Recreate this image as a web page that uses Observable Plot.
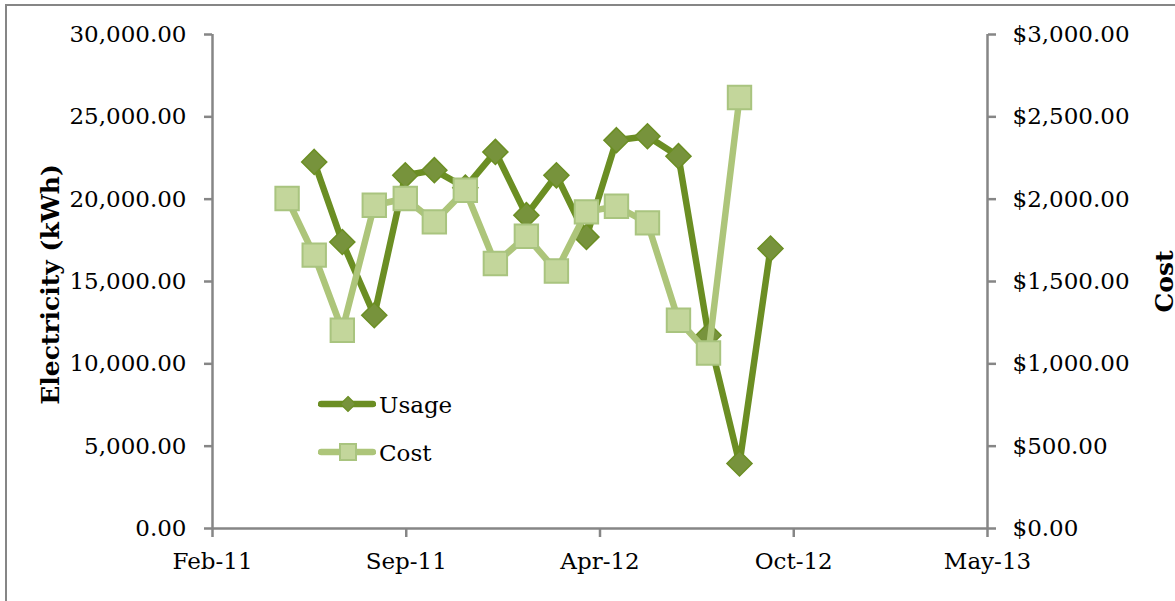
<!DOCTYPE html>
<html>
<head>
<meta charset="utf-8">
<script src="https://cdn.jsdelivr.net/npm/d3@7"></script>
<script src="https://cdn.jsdelivr.net/npm/@observablehq/plot@0.6"></script>
<style>
  html, body { margin: 0; padding: 0; background: #fff; overflow: hidden; }
  #wrap { position: relative; width: 1175px; height: 601px; overflow: hidden; }
  #frame { position: absolute; left: 5px; top: 4px; width: 1300px; height: 700px; border: 2px solid #868686; box-sizing: border-box; }
  #chart { position: absolute; left: 0; top: 0; }
  #legend { position: absolute; left: 318px; top: 389px; font-family: "DejaVu Serif", serif; font-size: 23px; color: #000; }
  .row { display: flex; align-items: center; height: 30px; margin-bottom: 18px; }
  .row span { margin-left: 3px; position: relative; top: 1px; }
</style>
</head>
<body>
<div id="wrap">
  <div id="frame"></div>
  <div id="chart"></div>
  <div id="legend"></div>
</div>
<script>
// ---- data ----
const billDates = ["2011-05-14","2011-06-11","2011-07-10","2011-08-12","2011-09-13","2011-10-13",
  "2011-11-14","2011-12-15","2012-01-16","2012-02-16","2012-03-18","2012-04-18","2012-05-20",
  "2012-06-21","2012-07-22","2012-08-23","2012-09-24"];
const usageDates = billDates.slice(1);
const usageKWh = [22260, 17400, 12950, 21450, 21760, 20700, 22870, 19030, 21450, 17710,
  23580, 23820, 22610, 11740, 3950, 17000];
const costDates = billDates.slice(0, 16);
const costUSD = [2004, 1660, 1204, 1963, 2004, 1862, 2054, 1609, 1775, 1564,
  1923, 1957, 1856, 1265, 1066, 2617];

const xTickDates = ["2011-02-26","2011-09-14","2012-04-01","2012-10-18","2013-05-06"];
const xTickLabels = ["Feb-11","Sep-11","Apr-12","Oct-12","May-13"];
const yTicks = [0, 5000, 10000, 15000, 20000, 25000, 30000];
const costTicks = [0, 500, 1000, 1500, 2000, 2500, 3000];
const seriesNames = ["Usage", "Cost"];
const titleLeft = "Electricity (kWh)";
const titleRight = "Cost";

// ---- build ----
const parse = d3.utcParse("%Y-%m-%d");
const ratio = 30000 / 3000; // cost axis maps onto usage axis
const usageData = usageDates.map((d, i) => ({date: parse(d), value: usageKWh[i]}));
const costData = costDates.map((d, i) => ({date: parse(d), value: costUSD[i] * ratio}));
const tickDates = xTickDates.map(parse);
const tickLabelMap = new Map(tickDates.map((d, i) => [+d, xTickLabels[i]]));

const gray = "#868686";
const usageLine = "#6B8E23", usageFill = "#77933C";
const costLine = "#ADC57A", costFill = "#C3D69B", costStroke = "#A9C47F";

const chart = Plot.plot({
  width: 1175,
  height: 601,
  marginLeft: 212,
  marginRight: 188,
  marginTop: 34,
  marginBottom: 73,
  style: {fontFamily: "DejaVu Serif", fontSize: "23px", color: "#000", background: "transparent", overflow: "visible"},
  x: {type: "utc", domain: [tickDates[0], tickDates[tickDates.length - 1]]},
  y: {domain: [0, 30000]},
  marks: [
    Plot.ruleY([0], {stroke: gray, strokeWidth: 2.5}),
    Plot.ruleX([tickDates[0]], {stroke: gray, strokeWidth: 2.5}),
    Plot.ruleX([tickDates[tickDates.length - 1]], {stroke: gray, strokeWidth: 2.5}),
    Plot.axisY({ticks: yTicks, tickFormat: d3.format(",.2f"), tickSize: 8, tickPadding: 18,
      stroke: gray, strokeWidth: 2.5, fill: "#000", label: null, fontSize: 23}),
    Plot.axisY({anchor: "right", ticks: costTicks.map(c => c * ratio),
      tickFormat: d => "$" + d3.format(",.2f")(d / ratio), tickSize: 8, tickPadding: 17,
      stroke: gray, strokeWidth: 2.5, fill: "#000", label: null, fontSize: 23}),
    Plot.axisX({ticks: tickDates, tickFormat: d => tickLabelMap.get(+d), tickSize: 9, tickPadding: 15,
      stroke: gray, strokeWidth: 2.5, fill: "#000", label: null, fontSize: 23}),
    Plot.text([titleLeft], {frameAnchor: "left", textAnchor: "middle", text: d => d, rotate: -90, dx: -162, dy: 3,
      fontWeight: "bold", fontSize: 25, fill: "#000"}),
    Plot.text([titleRight], {frameAnchor: "right", textAnchor: "middle", text: d => d, rotate: -90, dx: 177,
      fontWeight: "bold", fontSize: 25, fill: "#000"}),
    Plot.line(usageData, {x: "date", y: "value", stroke: usageLine, strokeWidth: 6.5, strokeLinejoin: "round", strokeLinecap: "round"}),
    Plot.dot(usageData, {x: "date", y: "value", symbol: "diamond2", r: 11.3, fill: usageFill, stroke: usageLine, strokeWidth: 1.5}),
    Plot.line(costData, {x: "date", y: "value", stroke: costLine, strokeWidth: 6.5, strokeLinejoin: "round", strokeLinecap: "round"}),
    Plot.dot(costData, {x: "date", y: "value", symbol: "square", r: 13.2, fill: costFill, stroke: costStroke, strokeWidth: 2})
  ]
});
document.getElementById("chart").appendChild(chart);

// ---- legend ----
const legend = d3.select("#legend");
const swatches = [
  {name: seriesNames[0], line: usageLine, fill: usageFill, stroke: usageLine, shape: "diamond"},
  {name: seriesNames[1], line: costLine, fill: costFill, stroke: costStroke, shape: "square"}
];
swatches.forEach(s => {
  const row = legend.append("div").attr("class", "row");
  const svg = row.append("svg").attr("width", 58).attr("height", 30);
  svg.append("line").attr("x1", 3).attr("x2", 55).attr("y1", 15).attr("y2", 15)
    .attr("stroke", s.line).attr("stroke-width", 6.5).attr("stroke-linecap", "round");
  if (s.shape === "diamond") {
    svg.append("path").attr("d", "M30,7.5L37.5,15L30,22.5L22.5,15Z")
      .attr("fill", s.fill).attr("stroke", s.stroke).attr("stroke-width", 1.2);
  } else {
    svg.append("rect").attr("x", 22).attr("y", 7).attr("width", 16).attr("height", 16)
      .attr("fill", s.fill).attr("stroke", s.stroke).attr("stroke-width", 2);
  }
  row.append("span").text(s.name);
});
</script>
</body>
</html>
